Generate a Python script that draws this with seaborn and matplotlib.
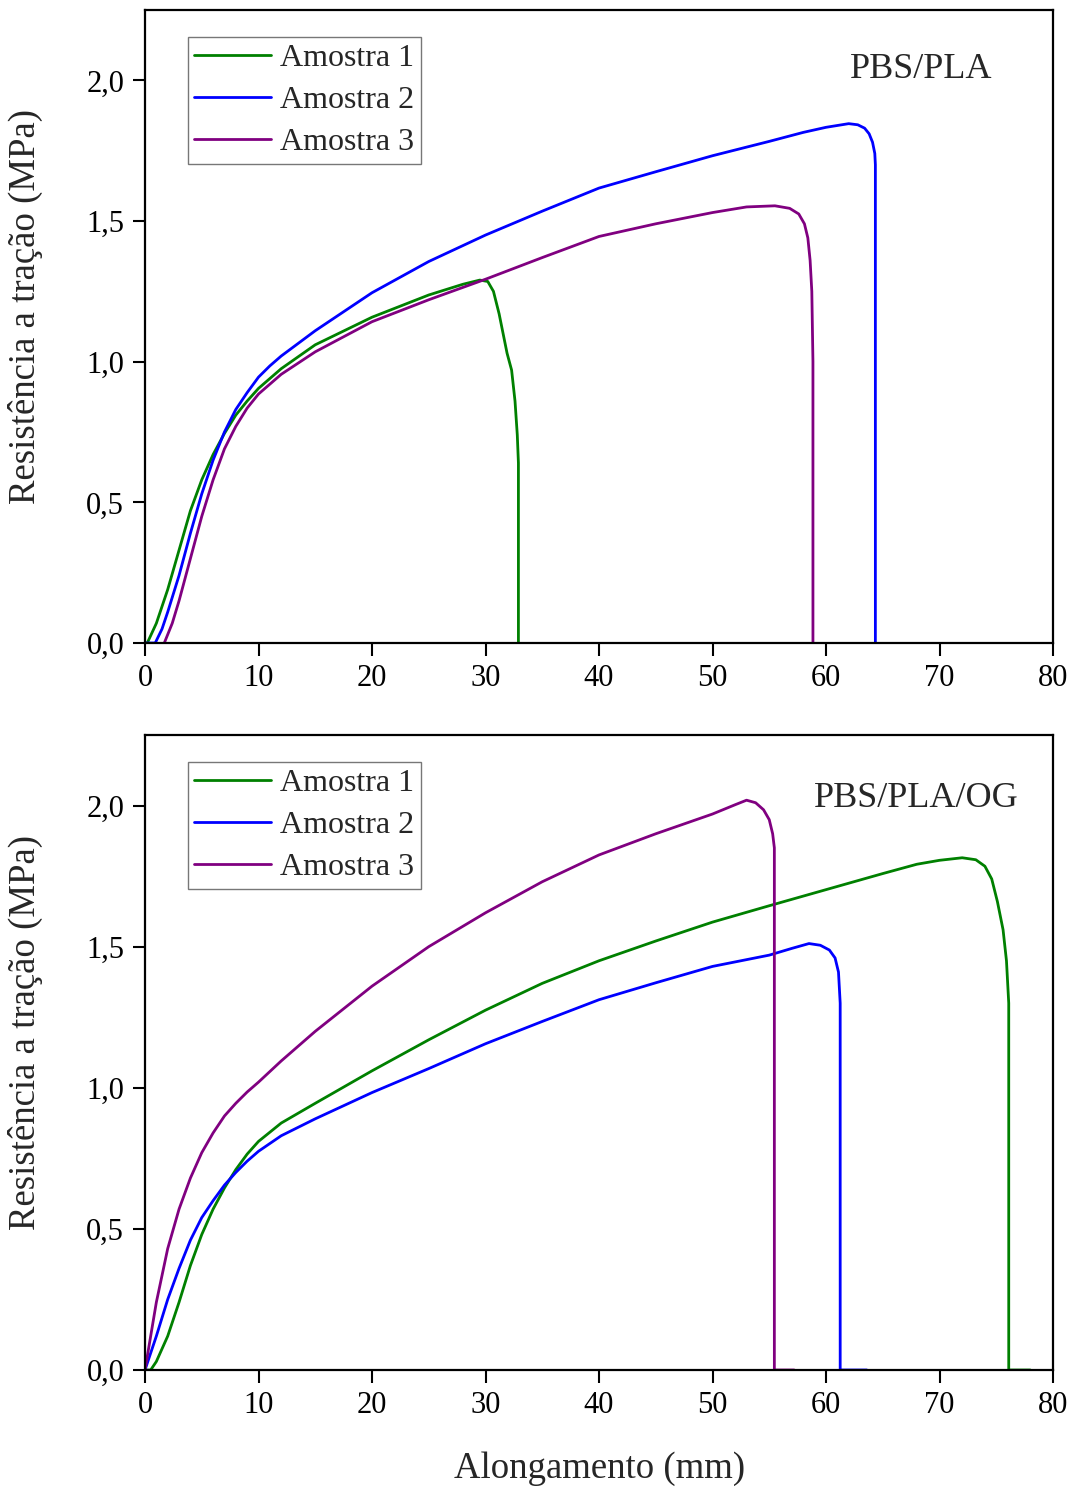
import matplotlib
matplotlib.use("Agg")
import matplotlib.pyplot as plt
import pandas as pd
import seaborn as sns

# ── Data (Alongamento mm, Resistência MPa) ─────────────────────────────────
# PBS/PLA
PLA_A1_X = [0, 0.2, 1, 2, 3, 4, 5, 6, 7, 8, 9, 10, 12, 15, 20, 25, 28, 29.5, 30.2,
            30.7, 31.2, 31.6, 31.9, 32.3, 32.6, 32.8, 32.9, 32.9]
PLA_A1_Y = [0, 0, 0.07, 0.19, 0.33, 0.47, 0.58, 0.67, 0.745, 0.81, 0.86, 0.905, 0.975, 1.06,
            1.158, 1.237, 1.275, 1.29, 1.285, 1.25, 1.17, 1.09, 1.03, 0.97, 0.86, 0.74, 0.64, 0]

PLA_A2_X = [0, 0.9, 1.5, 2, 3, 4, 5, 6, 7, 8, 9, 10, 11, 12, 13, 15, 20, 25, 30, 35, 40, 45,
            50, 55, 58, 60, 62, 62.8, 63.4, 63.8, 64.1, 64.3, 64.35, 64.35]
PLA_A2_Y = [0, 0, 0.05, 0.11, 0.24, 0.39, 0.53, 0.65, 0.75, 0.83, 0.89, 0.945, 0.985, 1.02, 1.05,
            1.11, 1.245, 1.356, 1.45, 1.535, 1.617, 1.675, 1.732, 1.783, 1.815, 1.833, 1.846,
            1.842, 1.83, 1.81, 1.78, 1.74, 1.70, 0]

PLA_A3_X = [1.7, 2.4, 3, 4, 5, 6, 7, 8, 9, 10, 12, 15, 20, 25, 30, 35, 40, 45, 50, 53, 55.5,
            56.8, 57.6, 58.1, 58.4, 58.6, 58.75, 58.85, 58.85]
PLA_A3_Y = [0, 0.07, 0.15, 0.3, 0.45, 0.58, 0.69, 0.77, 0.835, 0.885, 0.955, 1.035, 1.142, 1.22,
            1.293, 1.37, 1.445, 1.49, 1.53, 1.55, 1.554, 1.545, 1.525, 1.49, 1.44, 1.36, 1.25,
            1.0, 0]

# PBS/PLA/OG
OG_A1_X = [0, 0.5, 1, 2, 3, 4, 5, 6, 7, 8, 9, 10, 12, 15, 20, 25, 30, 35, 40, 45, 50, 55, 60,
           65, 68, 70, 72, 73.2, 74.0, 74.6, 75.1, 75.6, 75.9, 76.1, 76.1, 78]
OG_A1_Y = [0, 0, 0.03, 0.12, 0.24, 0.37, 0.48, 0.57, 0.645, 0.71, 0.765, 0.81, 0.875, 0.945, 1.06,
           1.17, 1.275, 1.37, 1.45, 1.52, 1.587, 1.645, 1.702, 1.759, 1.792, 1.806, 1.815,
           1.808, 1.785, 1.74, 1.66, 1.56, 1.45, 1.30, 0, 0]

OG_A2_X = [0, 1, 2, 3, 4, 5, 6, 7, 8, 9, 10, 12, 15, 20, 25, 30, 35, 40, 45, 50, 55, 57, 58.5,
           59.5, 60.3, 60.8, 61.1, 61.25, 61.25, 63.6]
OG_A2_Y = [0, 0.12, 0.25, 0.36, 0.46, 0.54, 0.6, 0.655, 0.7, 0.74, 0.775, 0.83, 0.89, 0.983,
           1.068, 1.156, 1.235, 1.312, 1.372, 1.43, 1.47, 1.494, 1.511, 1.505, 1.488, 1.46,
           1.41, 1.30, 0, 0]

OG_A3_X = [0, 1, 2, 3, 4, 5, 6, 7, 8, 9, 10, 12, 15, 20, 25, 30, 35, 40, 45, 50, 52, 53,
           53.8, 54.5, 55.0, 55.3, 55.45, 55.45, 57.2]
OG_A3_Y = [0, 0.24, 0.43, 0.57, 0.68, 0.77, 0.84, 0.9, 0.945, 0.985, 1.02, 1.095, 1.2, 1.36, 1.5,
           1.62, 1.73, 1.825, 1.9, 1.97, 2.003, 2.019, 2.01, 1.985, 1.95, 1.90, 1.85, 0, 0]

SAMPLES = ["Amostra 1", "Amostra 2", "Amostra 3"]
PANELS = ["PBS/PLA", "PBS/PLA/OG"]
COLORS = {"Amostra 1": "#008000", "Amostra 2": "#0000FF", "Amostra 3": "#800080"}

X_TICKS = [0, 10, 20, 30, 40, 50, 60, 70, 80]
Y_TICKS = [0.0, 0.5, 1.0, 1.5, 2.0]
Y_TICK_LABELS = ["0,0", "0,5", "1,0", "1,5", "2,0"]


def build_frame():
    series = {
        ("PBS/PLA", "Amostra 1"): (PLA_A1_X, PLA_A1_Y),
        ("PBS/PLA", "Amostra 2"): (PLA_A2_X, PLA_A2_Y),
        ("PBS/PLA", "Amostra 3"): (PLA_A3_X, PLA_A3_Y),
        ("PBS/PLA/OG", "Amostra 1"): (OG_A1_X, OG_A1_Y),
        ("PBS/PLA/OG", "Amostra 2"): (OG_A2_X, OG_A2_Y),
        ("PBS/PLA/OG", "Amostra 3"): (OG_A3_X, OG_A3_Y),
    }
    frames = []
    for (panel, sample), (xs, ys) in series.items():
        frames.append(pd.DataFrame({"x": xs, "y": ys, "panel": panel, "sample": sample}))
    return pd.concat(frames, ignore_index=True)


sns.set_style("ticks")
plt.rcParams["font.family"] = ["Liberation Serif", "DejaVu Serif"]

df = build_frame()

fig = plt.figure(figsize=(10.78, 14.88), dpi=100)
rects = [
    [145 / 1078, 1 - 643 / 1488, 908 / 1078, 633 / 1488],
    [145 / 1078, 1 - 1370 / 1488, 908 / 1078, 635 / 1488],
]
label_pos = [(0.855, 0.906), (0.849, 0.900)]

for i, panel in enumerate(PANELS):
    ax = fig.add_axes(rects[i])
    sub = df[df["panel"] == panel]
    sns.lineplot(data=sub, x="x", y="y", hue="sample", hue_order=SAMPLES,
                 palette=COLORS, estimator=None, sort=False, linewidth=2.0, ax=ax)

    ax.set_xlim(0, 80)
    ax.set_ylim(0, 2.25)
    ax.set_xticks(X_TICKS)
    ax.set_xticklabels([str(t) for t in X_TICKS])
    ax.set_yticks(Y_TICKS)
    ax.set_yticklabels(Y_TICK_LABELS)
    ax.tick_params(direction="out", length=9, width=1.5, labelsize=22, pad=6,
                   top=False, right=False, colors="black")
    for sp in ax.spines.values():
        sp.set_visible(True)
        sp.set_linewidth(1.6)
        sp.set_color("black")

    ax.set_ylabel("Resistência a tração (MPa)", fontsize=26.5)
    ax.yaxis.set_label_coords(-0.112, 0.532)
    if i == 1:
        ax.set_xlabel("Alongamento (mm)", fontsize=26.5)
        ax.xaxis.set_label_coords(0.501, -0.128)
    else:
        ax.set_xlabel("")

    ax.text(label_pos[i][0], label_pos[i][1], panel, transform=ax.transAxes,
            ha="center", va="center", fontsize=26)

    leg = ax.legend(loc="upper left", bbox_to_anchor=(0.047, 0.957), borderaxespad=0,
                    fontsize=23, frameon=True, fancybox=False, borderpad=0.2,
                    handlelength=2.4, handletextpad=0.3, labelspacing=0.4)
    leg.get_frame().set_edgecolor("#555555")
    leg.get_frame().set_linewidth(1.0)
    for line in leg.get_lines():
        line.set_linewidth(2.0)

fig.savefig("out.png", dpi=100)
